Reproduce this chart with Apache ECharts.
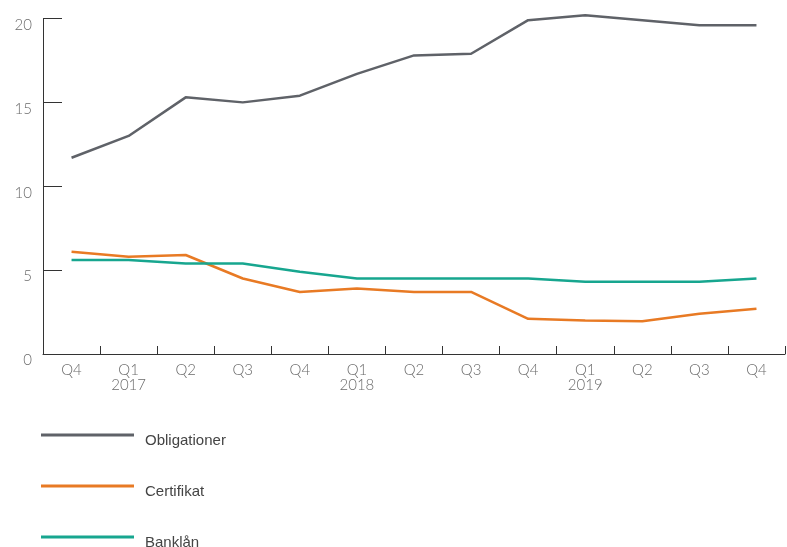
<!DOCTYPE html>
<html>
<head>
<meta charset="utf-8">
<script src="https://cdn.jsdelivr.net/npm/echarts@6/dist/echarts.min.js"></script>
<style>
  html, body { margin: 0; padding: 0; background: #ffffff; }
  #chart { width: 787px; height: 547px; }
</style>
</head>
<body>
<div id="chart"></div>
<script>
// Quarter labels (second line marks the year at each Q1)
const categories = ['Q4', 'Q1\n2017', 'Q2', 'Q3', 'Q4', 'Q1\n2018', 'Q2', 'Q3', 'Q4', 'Q1\n2019', 'Q2', 'Q3', 'Q4'];

// Series values per quarter
const obligationer = [11.7, 13.0, 15.3, 15.0, 15.4, 16.7, 17.8, 17.9, 19.9, 20.2, 19.9, 19.6, 19.6];
const certifikat   = [6.1, 5.8, 5.9, 4.5, 3.7, 3.9, 3.7, 3.7, 2.1, 2.0, 1.95, 2.4, 2.7];
const banklan      = [5.6, 5.6, 5.4, 5.4, 4.9, 4.5, 4.5, 4.5, 4.5, 4.3, 4.3, 4.3, 4.5];

// Value axis ticks
const yTicks = [0, 5, 10, 15, 20];

const colors = { obligationer: '#5f6268', certifikat: '#e87a24', banklan: '#17a68f' };

const chart = echarts.init(document.getElementById('chart'), null, { renderer: 'canvas' });

function lineSeries(name, data, color) {
  return {
    name: name,
    type: 'line',
    data: data,
    symbol: 'none',
    smooth: false,
    clip: false,
    lineStyle: { color: color, width: 2.5 },
    itemStyle: { color: color }
  };
}

chart.setOption({
  animation: false,
  backgroundColor: '#ffffff',
  grid: { left: 43, right: 2, top: 18.5, bottom: 193, containLabel: false },
  xAxis: {
    type: 'category',
    data: categories,
    boundaryGap: true,
    axisLine: { show: true, lineStyle: { color: '#333333', width: 1 } },
    axisTick: { show: true, inside: true, length: 8, lineStyle: { color: '#333333', width: 1 } },
    axisLabel: {
      interval: 0,
      margin: 9,
      color: '#6b6b6b',
      fontFamily: 'Lato',
      fontWeight: 300,
      fontSize: 15,
      lineHeight: 15
    },
    splitLine: { show: false }
  },
  yAxis: {
    type: 'value',
    min: yTicks[0],
    max: yTicks[yTicks.length - 1],
    interval: 5,
    axisLine: { show: true, lineStyle: { color: '#333333', width: 1 } },
    axisTick: { show: true, inside: true, length: 19, lineStyle: { color: '#333333', width: 1 } },
    axisLabel: {
      margin: 11,
      formatter: '{v|{value}}',
      rich: {
        v: {
          color: '#6b6b6b',
          fontFamily: 'Lato',
          fontWeight: 300,
          fontSize: 15,
          padding: [13, 0, 0, 0]
        }
      }
    },
    splitLine: { show: false }
  },
  legend: {
    orient: 'vertical',
    left: 41,
    top: 433,
    height: 200,
    padding: 0,
    icon: 'rect',
    itemWidth: 93,
    itemHeight: 3,
    itemGap: 36,
    formatter: '{t|{name}}',
    textStyle: {
      rich: {
        t: {
          color: '#444444',
          fontFamily: 'Liberation Sans',
          fontSize: 15,
          padding: [11, 0, 0, 6]
        }
      }
    },
    data: ['Obligationer', 'Certifikat', 'Banklån']
  },
  series: [
    lineSeries('Obligationer', obligationer, colors.obligationer),
    lineSeries('Certifikat', certifikat, colors.certifikat),
    lineSeries('Banklån', banklan, colors.banklan)
  ]
});
</script>
</body>
</html>
